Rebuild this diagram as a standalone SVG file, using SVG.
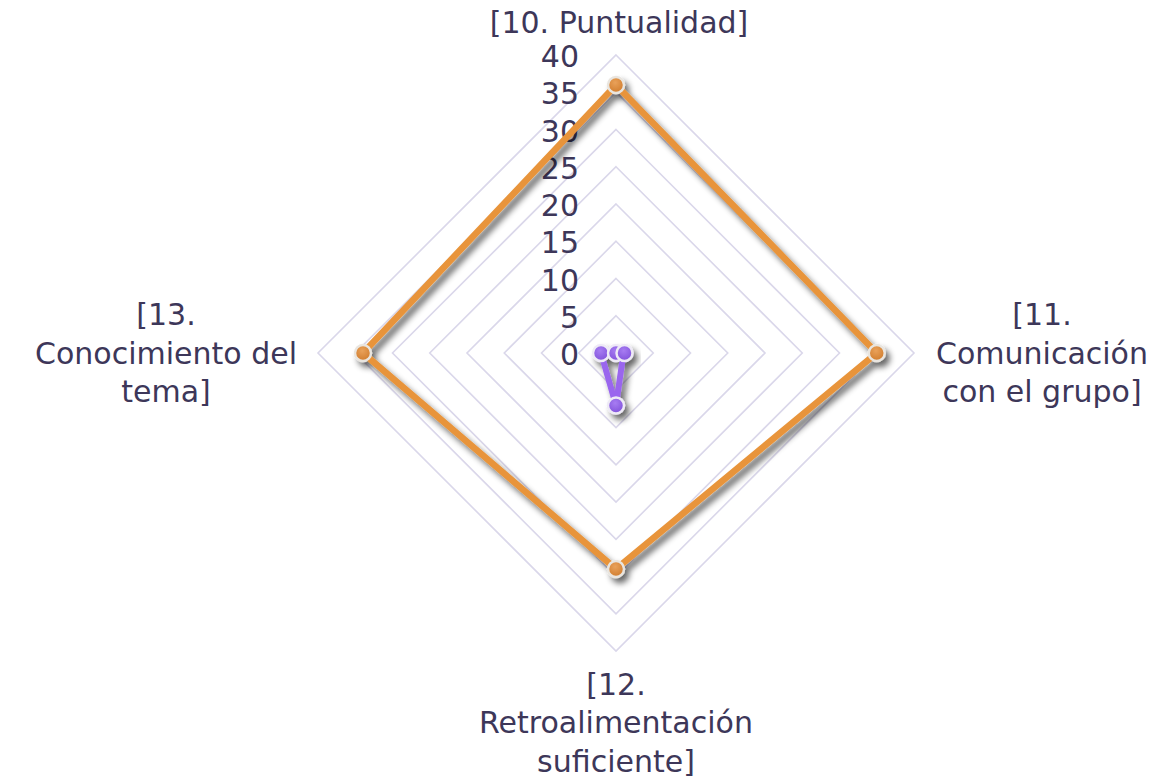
<svg xmlns="http://www.w3.org/2000/svg" width="1162" height="780" viewBox="0 0 1162 780">
<defs>
<style>
.lbl{font-family:"DejaVu Sans","Liberation Sans",sans-serif;font-size:30px;fill:#3D3759;text-anchor:middle}
.tick{font-family:"DejaVu Sans","Liberation Sans",sans-serif;font-size:30px;fill:#3D3759;text-anchor:end}
.grid{fill:none;stroke:#DAD7EA;stroke-width:1.6}
.s1{fill:none;stroke:#E8943A;stroke-width:6.5;stroke-linejoin:round}
.s2{fill:none;stroke:#9A66EE;stroke-width:6;stroke-linejoin:round}
.m1{fill:url(#go);stroke:#E9E5DF;stroke-width:2.5}
.m2{fill:url(#gp);stroke:#EEEAF6;stroke-width:2.5}
</style>
<radialGradient id="go" cx="0.45" cy="0.35" r="0.7">
<stop offset="0" stop-color="#E9A15A"/><stop offset="1" stop-color="#CF7A2A"/>
</radialGradient>
<radialGradient id="gp" cx="0.45" cy="0.35" r="0.7">
<stop offset="0" stop-color="#A77CF2"/><stop offset="1" stop-color="#7E4FD9"/>
</radialGradient>
<filter id="sh" x="-20%" y="-20%" width="140%" height="140%">
<feGaussianBlur in="SourceAlpha" stdDeviation="3"/>
<feOffset dx="4" dy="5" result="b"/>
<feComponentTransfer><feFuncA type="linear" slope="0.6"/></feComponentTransfer>
<feMerge><feMergeNode/><feMergeNode in="SourceGraphic"/></feMerge>
</filter>
</defs>
<rect width="1162" height="780" fill="#FFFFFF"/>
<g id="grid">
<polygon class="grid" points="616,55 914,353 616,651 318,353"/>
<polygon class="grid" points="616,92.25 876.75,353 616,613.75 355.25,353"/>
<polygon class="grid" points="616,129.5 839.5,353 616,576.5 392.5,353"/>
<polygon class="grid" points="616,166.75 802.25,353 616,539.25 429.75,353"/>
<polygon class="grid" points="616,204 765,353 616,502 467,353"/>
<polygon class="grid" points="616,241.25 727.75,353 616,464.75 504.25,353"/>
<polygon class="grid" points="616,278.5 690.5,353 616,427.5 541.5,353"/>
<polygon class="grid" points="616,315.75 653.25,353 616,390.25 578.75,353"/>
</g>
<g id="ticks">
<text class="tick" x="579" y="67">40</text>
<text class="tick" x="579" y="104">35</text>
<text class="tick" x="579" y="141.5">30</text>
<text class="tick" x="579" y="179">25</text>
<text class="tick" x="579" y="216">20</text>
<text class="tick" x="579" y="253">15</text>
<text class="tick" x="579" y="290.5">10</text>
<text class="tick" x="579" y="328">5</text>
<text class="tick" x="579" y="365">0</text>
</g>
<g id="connectors">
<g id="series-orange" filter="url(#sh)">
<polygon class="s1" points="616,85 876.75,353 616,569 363,353"/>
<circle class="m1" cx="616" cy="85" r="8"/>
<circle class="m1" cx="876.75" cy="353" r="8"/>
<circle class="m1" cx="616" cy="569" r="8"/>
<circle class="m1" cx="363" cy="353" r="8"/>
</g>
<g id="series-purple" filter="url(#sh)">
<polygon class="s2" points="616,353 623.5,353 616,405.5 601,353"/>
<circle class="m2" cx="601" cy="353" r="8"/>
<circle class="m2" cx="616" cy="353" r="8"/>
<circle class="m2" cx="624.5" cy="353" r="8"/>
<circle class="m2" cx="616" cy="405.5" r="8"/>
</g>
</g>
<g id="node-10">
<text class="lbl" x="619" y="33">[10. Puntualidad]</text>
</g>
<g id="node-11">
<text class="lbl" x="1042" y="325">[11.</text>
<text class="lbl" x="1042" y="364">Comunicación</text>
<text class="lbl" x="1042" y="402">con el grupo]</text>
</g>
<g id="node-12">
<text class="lbl" x="616" y="695">[12.</text>
<text class="lbl" x="616" y="733">Retroalimentación</text>
<text class="lbl" x="616" y="772">suficiente]</text>
</g>
<g id="node-13">
<text class="lbl" x="166" y="325">[13.</text>
<text class="lbl" x="166" y="364">Conocimiento del</text>
<text class="lbl" x="166" y="402">tema]</text>
</g>
</svg>
